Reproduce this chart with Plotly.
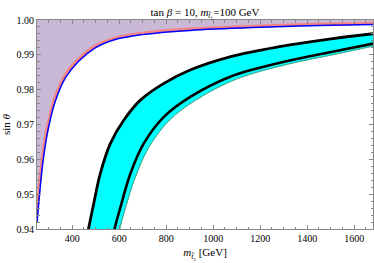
import plotly.graph_objects as go

# Boundary of the excluded (purple) region
m_red = [250, 263, 277, 298, 327, 370, 426, 498, 583, 697, 900, 1200, 1450, 1700]
s_red = [0.9445, 0.9545, 0.9625, 0.9705, 0.9778, 0.9842, 0.9887, 0.9925, 0.9948, 0.9962, 0.9974, 0.9983, 0.9988, 0.9991]
m_blue = [250, 263, 277, 298, 327, 370, 426, 498, 583, 697, 900, 1200, 1450, 1700]
s_blue = [0.9418, 0.9515, 0.9602, 0.9688, 0.9765, 0.9833, 0.9881, 0.9920, 0.9944, 0.9958, 0.9970, 0.9979, 0.9984, 0.9987]

# Cyan band: outer (upper) black curve, inner black curve, lower cyan edge
m_outer = [458, 469, 491, 519, 562, 619, 690, 790, 904, 1075, 1288, 1502, 1700]
s_outer = [0.9360, 0.9400, 0.9472, 0.9558, 0.9645, 0.9712, 0.9770, 0.9818, 0.9857, 0.9895, 0.9924, 0.9946, 0.9962]
m_inner = [570, 580, 605, 647, 704, 790, 904, 1075, 1288, 1502, 1700]
s_inner = [0.9360, 0.9400, 0.9462, 0.9558, 0.9645, 0.9722, 0.9780, 0.9838, 0.9878, 0.9908, 0.9935]
m_edge = [592, 602, 627, 669, 727, 814, 930, 1100, 1310, 1520, 1700]
s_edge = [0.9360, 0.9400, 0.9462, 0.9550, 0.9636, 0.9713, 0.9772, 0.9831, 0.9872, 0.9902, 0.9928]

x_ticks = [400, 600, 800, 1000, 1200, 1400, 1600]
y_ticks = [0.94, 0.95, 0.96, 0.97, 0.98, 0.99, 1.00]
x_range = [250, 1680]
y_range = [0.94, 1.00]

SERIF = "Liberation Serif, Times New Roman, serif"

fig = go.Figure()

# purple region: red curve to top line sin=1
fig.add_trace(go.Scatter(x=m_red, y=s_red, mode="lines", line=dict(color="rgba(0,0,0,0)", width=0, shape="spline"),
                         showlegend=False, hoverinfo="skip"))
fig.add_trace(go.Scatter(x=m_red, y=[y_range[1]] * len(m_red), mode="lines", line=dict(color="rgba(0,0,0,0)", width=0),
                         fill="tonexty", fillcolor="#C9B8D6", showlegend=False, hoverinfo="skip"))
fig.add_trace(go.Scatter(x=m_red, y=s_red, mode="lines", line=dict(color="#F48484", width=3, shape="spline"),
                         showlegend=False))
fig.add_trace(go.Scatter(x=m_blue, y=s_blue, mode="lines", line=dict(color="#0000FF", width=1.5, shape="spline"),
                         showlegend=False))

# cyan band
fig.add_trace(go.Scatter(x=m_edge, y=s_edge, mode="lines", line=dict(color="#3FB49A", width=1, shape="spline"),
                         showlegend=False))
fig.add_trace(go.Scatter(x=m_outer, y=s_outer, mode="lines", line=dict(color="rgba(0,0,0,0)", width=0, shape="spline"),
                         fill="tonexty", fillcolor="#00FFFF", showlegend=False, hoverinfo="skip"))
fig.add_trace(go.Scatter(x=m_edge, y=s_edge, mode="lines", line=dict(color="#3FB49A", width=1, shape="spline"),
                         showlegend=False))
fig.add_trace(go.Scatter(x=m_inner, y=s_inner, mode="lines", line=dict(color="black", width=2.6, shape="spline"),
                         showlegend=False))
fig.add_trace(go.Scatter(x=m_outer, y=s_outer, mode="lines", line=dict(color="black", width=2.8, shape="spline"),
                         showlegend=False))

axis_common = dict(showgrid=False, zeroline=False, showline=True, linecolor="#888888", linewidth=1,
                   mirror="ticks", ticks="inside", tickcolor="#888888", ticklen=4,
                   tickfont=dict(family=SERIF, size=10, color="black"))

fig.update_xaxes(range=x_range, tickvals=x_ticks, ticktext=[str(v) for v in x_ticks],
                 minor=dict(dtick=50, tick0=0, ticks="inside", ticklen=2.5, tickcolor="#888888"),
                 title=dict(text="<i>m</i><sub><i>t̃</i>₂</sub> [GeV]", font=dict(family=SERIF, size=11, color="black"),
                            standoff=5),
                 **axis_common)
fig.update_yaxes(range=y_range, tickvals=y_ticks, ticktext=[f"{v:.2f}" for v in y_ticks],
                 minor=dict(dtick=0.002, tick0=0.94, ticks="inside", ticklen=2.5, tickcolor="#888888"),
                 title=dict(text="sin <i>θ</i>", font=dict(family=SERIF, size=11, color="black"), standoff=6),
                 **axis_common)

fig.update_layout(
    width=374, height=263,
    margin=dict(l=37, r=1, t=20, b=34),
    paper_bgcolor="white", plot_bgcolor="white",
    title=dict(text="tan <i>β</i> = 10, <i>m</i><sub><i>t̃</i>₁</sub>=100 GeV",
               font=dict(family=SERIF, size=11, color="black"),
               x=0.548, xanchor="center", y=0.955, yanchor="middle"),
    showlegend=False,
)

fig.write_html("out.html", config={"displayModeBar": False},
               post_script="document.body.style.margin='0';document.body.style.overflow='hidden';")
